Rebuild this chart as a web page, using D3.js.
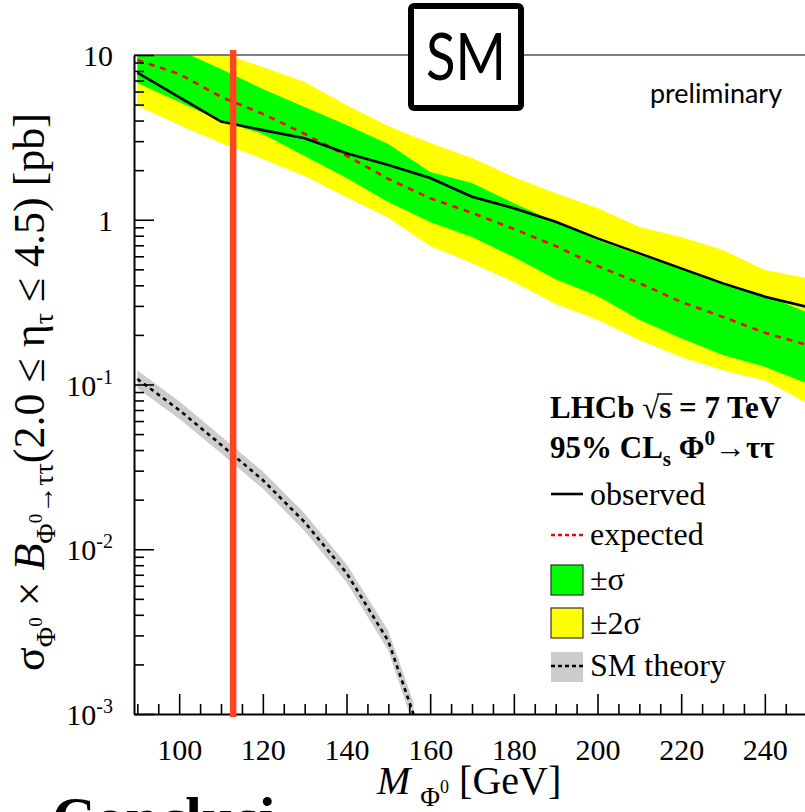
<!DOCTYPE html>
<html>
<head>
<meta charset="utf-8">
<script src="https://cdn.jsdelivr.net/npm/d3@7/dist/d3.min.js"></script>
<style>
  html, body { margin: 0; padding: 0; background: #fff; }
  svg { display: block; }
  text { white-space: pre; }
</style>
</head>
<body>
<svg id="chart" width="805" height="812"></svg>
<script>
// Higgs-like boson Φ0 → ττ cross-section limits, LHCb √s = 7 TeV
const masses   = [90, 100, 110, 120, 130, 140, 150, 160, 170, 180, 190, 200, 210, 220, 230, 240, 250];
const observed = [7.81, 5.55, 3.94, 3.50, 3.12, 2.53, 2.15, 1.79, 1.38, 1.175, 0.973, 0.771, 0.625, 0.507, 0.411, 0.341, 0.296];
const expected = [9.33, 7.67, 5.57, 4.39, 3.32, 2.45, 1.77, 1.35, 1.10, 0.879, 0.693, 0.524, 0.413, 0.317, 0.257, 0.206, 0.174];
const sigma1Lo = [6.76, 5.19, 3.97, 3.31, 2.44, 1.79, 1.28, 0.968, 0.785, 0.594, 0.436, 0.344, 0.247, 0.191, 0.151, 0.128, 0.102];
const sigma1Hi = [11.0, 10.7, 8.22, 6.22, 4.83, 3.76, 2.88, 1.95, 1.67, 1.26, 0.968, 0.753, 0.611, 0.509, 0.413, 0.349, 0.275];
const sigma2Lo = [4.92, 3.76, 2.92, 2.34, 1.84, 1.37, 1.03, 0.694, 0.546, 0.419, 0.308, 0.247, 0.186, 0.147, 0.122, 0.106, 0.0773];
const sigma2Hi = [12.3, 11.5, 10.3, 8.45, 6.86, 4.97, 3.71, 2.92, 2.37, 1.82, 1.45, 1.18, 0.903, 0.785, 0.655, 0.495, 0.443];

// Standard Model prediction with its uncertainty band
const smMasses  = [90, 100, 110, 120, 130, 140, 150, 156];
const smCentral = [0.108, 0.070, 0.0431, 0.0263, 0.0146, 0.00718, 0.00277, 0.0010];
const smHi      = [0.122, 0.079, 0.0485, 0.0296, 0.0165, 0.0081, 0.0032, 0.00118];
const smLo      = [0.095, 0.062, 0.0382, 0.0233, 0.0129, 0.0063, 0.00242, 0.00085];

// Hand-drawn marker line (GeV)
const markerMass = 112.9;

// Axis ticks
const xMajorTicks = [100, 120, 140, 160, 180, 200, 220, 240];
const xMinorTicks = d3.range(90, 250, 5).filter(v => v % 20 !== 0);
const yDecades = [0.001, 0.01, 0.1, 1, 10];
const yDecadeLabels = [["10", "-3"], ["10", "-2"], ["10", "-1"], ["1", ""], ["10", ""]];

const serif = "'Liberation Serif', 'Times New Roman', serif";
const sans = "Lato, 'Open Sans', sans-serif";

const svg = d3.select("#chart");
const L = 134, R = 805, T = 55, B = 714;

const x = d3.scaleLinear().domain([89.2, 249.6]).range([L, R]);
const y = d3.scaleLog().domain([1e-3, 10]).range([B, T]);

svg.append("defs").append("clipPath").attr("id", "plotClip")
  .append("rect").attr("x", L).attr("y", T).attr("width", R - L).attr("height", B - T);

const plot = svg.append("g").attr("clip-path", "url(#plotClip)");

const rows = masses.map((m, i) => ({
  m, obs: observed[i], exp: expected[i],
  s1lo: sigma1Lo[i], s1hi: sigma1Hi[i], s2lo: sigma2Lo[i], s2hi: sigma2Hi[i]
}));

const band = (lo, hi) => d3.area().x(d => x(d.m)).y0(d => y(d[lo])).y1(d => y(d[hi]));

plot.append("path").datum(rows).attr("d", band("s2lo", "s2hi")).attr("fill", "#ffff00");
plot.append("path").datum(rows).attr("d", band("s1lo", "s1hi")).attr("fill", "#00ff00");

const smRows = smMasses.map((m, i) => ({ m, c: smCentral[i], lo: smLo[i], hi: smHi[i] }));
plot.append("path").datum(smRows)
  .attr("d", d3.area().x(d => x(d.m)).y0(d => y(d.lo)).y1(d => y(d.hi)))
  .attr("fill", "#cccccc");
plot.append("path").datum(smRows)
  .attr("d", d3.line().x(d => x(d.m)).y(d => y(d.c)))
  .attr("fill", "none").attr("stroke", "#000").attr("stroke-width", 2.6)
  .attr("stroke-dasharray", "4,4");

plot.append("path").datum(rows)
  .attr("d", d3.line().x(d => x(d.m)).y(d => y(d.exp)))
  .attr("fill", "none").attr("stroke", "#ff0000").attr("stroke-width", 2.6)
  .attr("stroke-dasharray", "6,6");

plot.append("path").datum(rows)
  .attr("d", d3.line().x(d => x(d.m)).y(d => y(d.obs)))
  .attr("fill", "none").attr("stroke", "#000").attr("stroke-width", 2.6);

// Top frame line
svg.append("line").attr("x1", L).attr("x2", R).attr("y1", T).attr("y2", T)
  .attr("stroke", "#555").attr("stroke-width", 1.5);

// X axis
const xAxisG = svg.append("g").attr("transform", `translate(0,${B})`);
xAxisG.call(d3.axisBottom(x).tickValues(xMajorTicks).tickSize(-20).tickSizeOuter(0).tickPadding(25)
  .tickFormat(d3.format("d")));
const xMinorG = svg.append("g").attr("transform", `translate(0,${B})`);
xMinorG.call(d3.axisBottom(x).tickValues(xMinorTicks).tickSize(-10).tickSizeOuter(0).tickFormat(""));
xMinorG.select(".domain").remove();
xAxisG.select(".domain").attr("stroke-width", 2);
xAxisG.selectAll(".tick line").attr("stroke-width", 1.6);
xMinorG.selectAll(".tick line").attr("stroke-width", 1.6);
xAxisG.selectAll(".tick text").attr("font-family", serif).attr("font-size", 30).attr("fill", "#000");

// Y axis
const yMinor = [];
[0.001, 0.01, 0.1, 1].forEach(dec => { for (let k = 2; k <= 9; k++) yMinor.push(dec * k); });
const yAxisG = svg.append("g").attr("transform", `translate(${L},0)`);
yAxisG.call(d3.axisLeft(y).tickValues(yDecades).tickSize(-20).tickSizeOuter(0).tickFormat(""));
const yMinorG = svg.append("g").attr("transform", `translate(${L},0)`);
yMinorG.call(d3.axisLeft(y).tickValues(yMinor).tickSize(-10).tickSizeOuter(0).tickFormat(""));
yMinorG.select(".domain").remove();
yAxisG.select(".domain").attr("stroke-width", 2);
yAxisG.selectAll(".tick line").attr("stroke-width", 1.6);
yMinorG.selectAll(".tick line").attr("stroke-width", 1.6);

yDecades.forEach((v, i) => {
  const [base, exp] = yDecadeLabels[i];
  const t = svg.append("text").attr("x", 113).attr("y", y(v) + 11)
    .attr("text-anchor", "end").attr("font-family", serif).attr("font-size", 30).attr("fill", "#000");
  t.append("tspan").text(base);
  if (exp) t.append("tspan").attr("font-size", 20).attr("dy", -12).text(exp);
});

// Y axis title
const yt = svg.append("text")
  .attr("transform", "translate(44,392) rotate(-90)")
  .attr("text-anchor", "middle").attr("font-family", serif).attr("font-size", 44).attr("fill", "#000");
yt.append("tspan").text("σ");
yt.append("tspan").attr("font-size", 28).attr("dy", 11).text("Φ");
yt.append("tspan").attr("font-size", 19).attr("dy", -13).text("0");
yt.append("tspan").attr("dy", 2).text(" × ");
yt.append("tspan").attr("font-style", "italic").text("B");
yt.append("tspan").attr("font-size", 28).attr("dy", 11).text("Φ");
yt.append("tspan").attr("font-size", 19).attr("dy", -13).text("0");
yt.append("tspan").attr("font-size", 28).attr("dy", 11).text("→ττ");
yt.append("tspan").attr("dy", -9).text("(2.0 ≤ η");
yt.append("tspan").attr("font-size", 28).attr("dy", 9).text("τ");
yt.append("tspan").attr("dy", -9).text(" ≤ 4.5) [pb]");

// X axis title
const xt = svg.append("text").attr("x", 377).attr("y", 794)
  .attr("font-family", serif).attr("font-size", 40).attr("fill", "#000");
xt.append("tspan").attr("font-style", "italic").text("M ");
xt.append("tspan").attr("font-size", 27).attr("dy", 12).text("Φ");
xt.append("tspan").attr("font-size", 18).attr("dy", -13).text("0");
xt.append("tspan").attr("dy", 1).text(" [GeV]");

// Marker line
svg.append("line").attr("x1", x(markerMass)).attr("x2", x(markerMass)).attr("y1", 50).attr("y2", 717)
  .attr("stroke", "#ff4520").attr("stroke-width", 6.5);

// SM label box
svg.append("rect").attr("x", 411).attr("y", 6).attr("width", 110).attr("height", 102).attr("rx", 3)
  .attr("fill", "#fff").attr("stroke", "#000").attr("stroke-width", 6);
svg.append("text").attr("x", 466).attr("y", 80).attr("text-anchor", "middle")
  .attr("font-family", sans).attr("font-size", 66).attr("textLength", 80).attr("lengthAdjust", "spacingAndGlyphs")
  .attr("fill", "#000").text("SM");

svg.append("text").attr("x", 650).attr("y", 103)
  .attr("font-family", sans).attr("font-size", 26).attr("textLength", 132).attr("lengthAdjust", "spacingAndGlyphs")
  .attr("fill", "#000").text("preliminary");

// Legend header
const h1 = svg.append("text").attr("x", 550).attr("y", 418)
  .attr("font-family", serif).attr("font-size", 31).attr("font-weight", "bold").attr("fill", "#000");
h1.append("tspan").text("LHCb ");
h1.append("tspan").attr("font-weight", "normal").text("√");
h1.append("tspan").text("s");
h1.append("tspan").text(" = 7 TeV");

const h2 = svg.append("text").attr("x", 550).attr("y", 458)
  .attr("font-family", serif).attr("font-size", 31).attr("font-weight", "bold").attr("fill", "#000");
h2.append("tspan").text("95% CL");
h2.append("tspan").attr("font-size", 21).attr("dy", 8).text("s");
h2.append("tspan").attr("dy", -8).text(" Φ");
h2.append("tspan").attr("font-size", 21).attr("dy", -13).text("0");
h2.append("tspan").attr("dy", 13).text("→ττ");

// overline on the s of √s
{
  const node = h1.node();
  const start = node.getStartPositionOfChar(6);
  const end = node.getEndPositionOfChar(6);
  svg.append("line").attr("x1", start.x - 2).attr("x2", end.x + 1)
    .attr("y1", 418 - 24).attr("y2", 418 - 24).attr("stroke", "#000").attr("stroke-width", 1.5);
}

// Legend entries
const lx = 551, lw = 32, tx = 590;
const lg = svg.append("g");
lg.append("line").attr("x1", lx).attr("x2", lx + lw).attr("y1", 494).attr("y2", 494)
  .attr("stroke", "#000").attr("stroke-width", 2.6);
lg.append("line").attr("x1", lx).attr("x2", lx + lw).attr("y1", 535).attr("y2", 535)
  .attr("stroke", "#ff0000").attr("stroke-width", 2.4).attr("stroke-dasharray", "4,3");
lg.append("rect").attr("x", lx).attr("y", 565).attr("width", lw).attr("height", 30)
  .attr("fill", "#00ff00").attr("stroke", "#1a3a1a").attr("stroke-width", 1.2);
lg.append("rect").attr("x", lx).attr("y", 608).attr("width", lw).attr("height", 30)
  .attr("fill", "#ffff00").attr("stroke", "#333").attr("stroke-width", 1.2);
lg.append("rect").attr("x", lx).attr("y", 652).attr("width", lw).attr("height", 30)
  .attr("fill", "#cccccc");
lg.append("line").attr("x1", lx).attr("x2", lx + lw).attr("y1", 666).attr("y2", 666)
  .attr("stroke", "#000").attr("stroke-width", 2.4).attr("stroke-dasharray", "4,3");

const labels = [["observed", 505], ["expected", 545], ["±σ", 590], ["±2σ", 634], ["SM theory", 676]];
labels.forEach(([t, yy]) => {
  lg.append("text").attr("x", tx).attr("y", yy).attr("font-family", serif).attr("font-size", 32)
    .attr("fill", "#000").text(t);
});

// Heading of the following section, partly visible
svg.append("text").attr("x", 52).attr("y", 838)
  .attr("font-family", serif).attr("font-size", 60).attr("font-weight", "bold").attr("fill", "#000")
  .text("Conclusi");
</script>
</body>
</html>
